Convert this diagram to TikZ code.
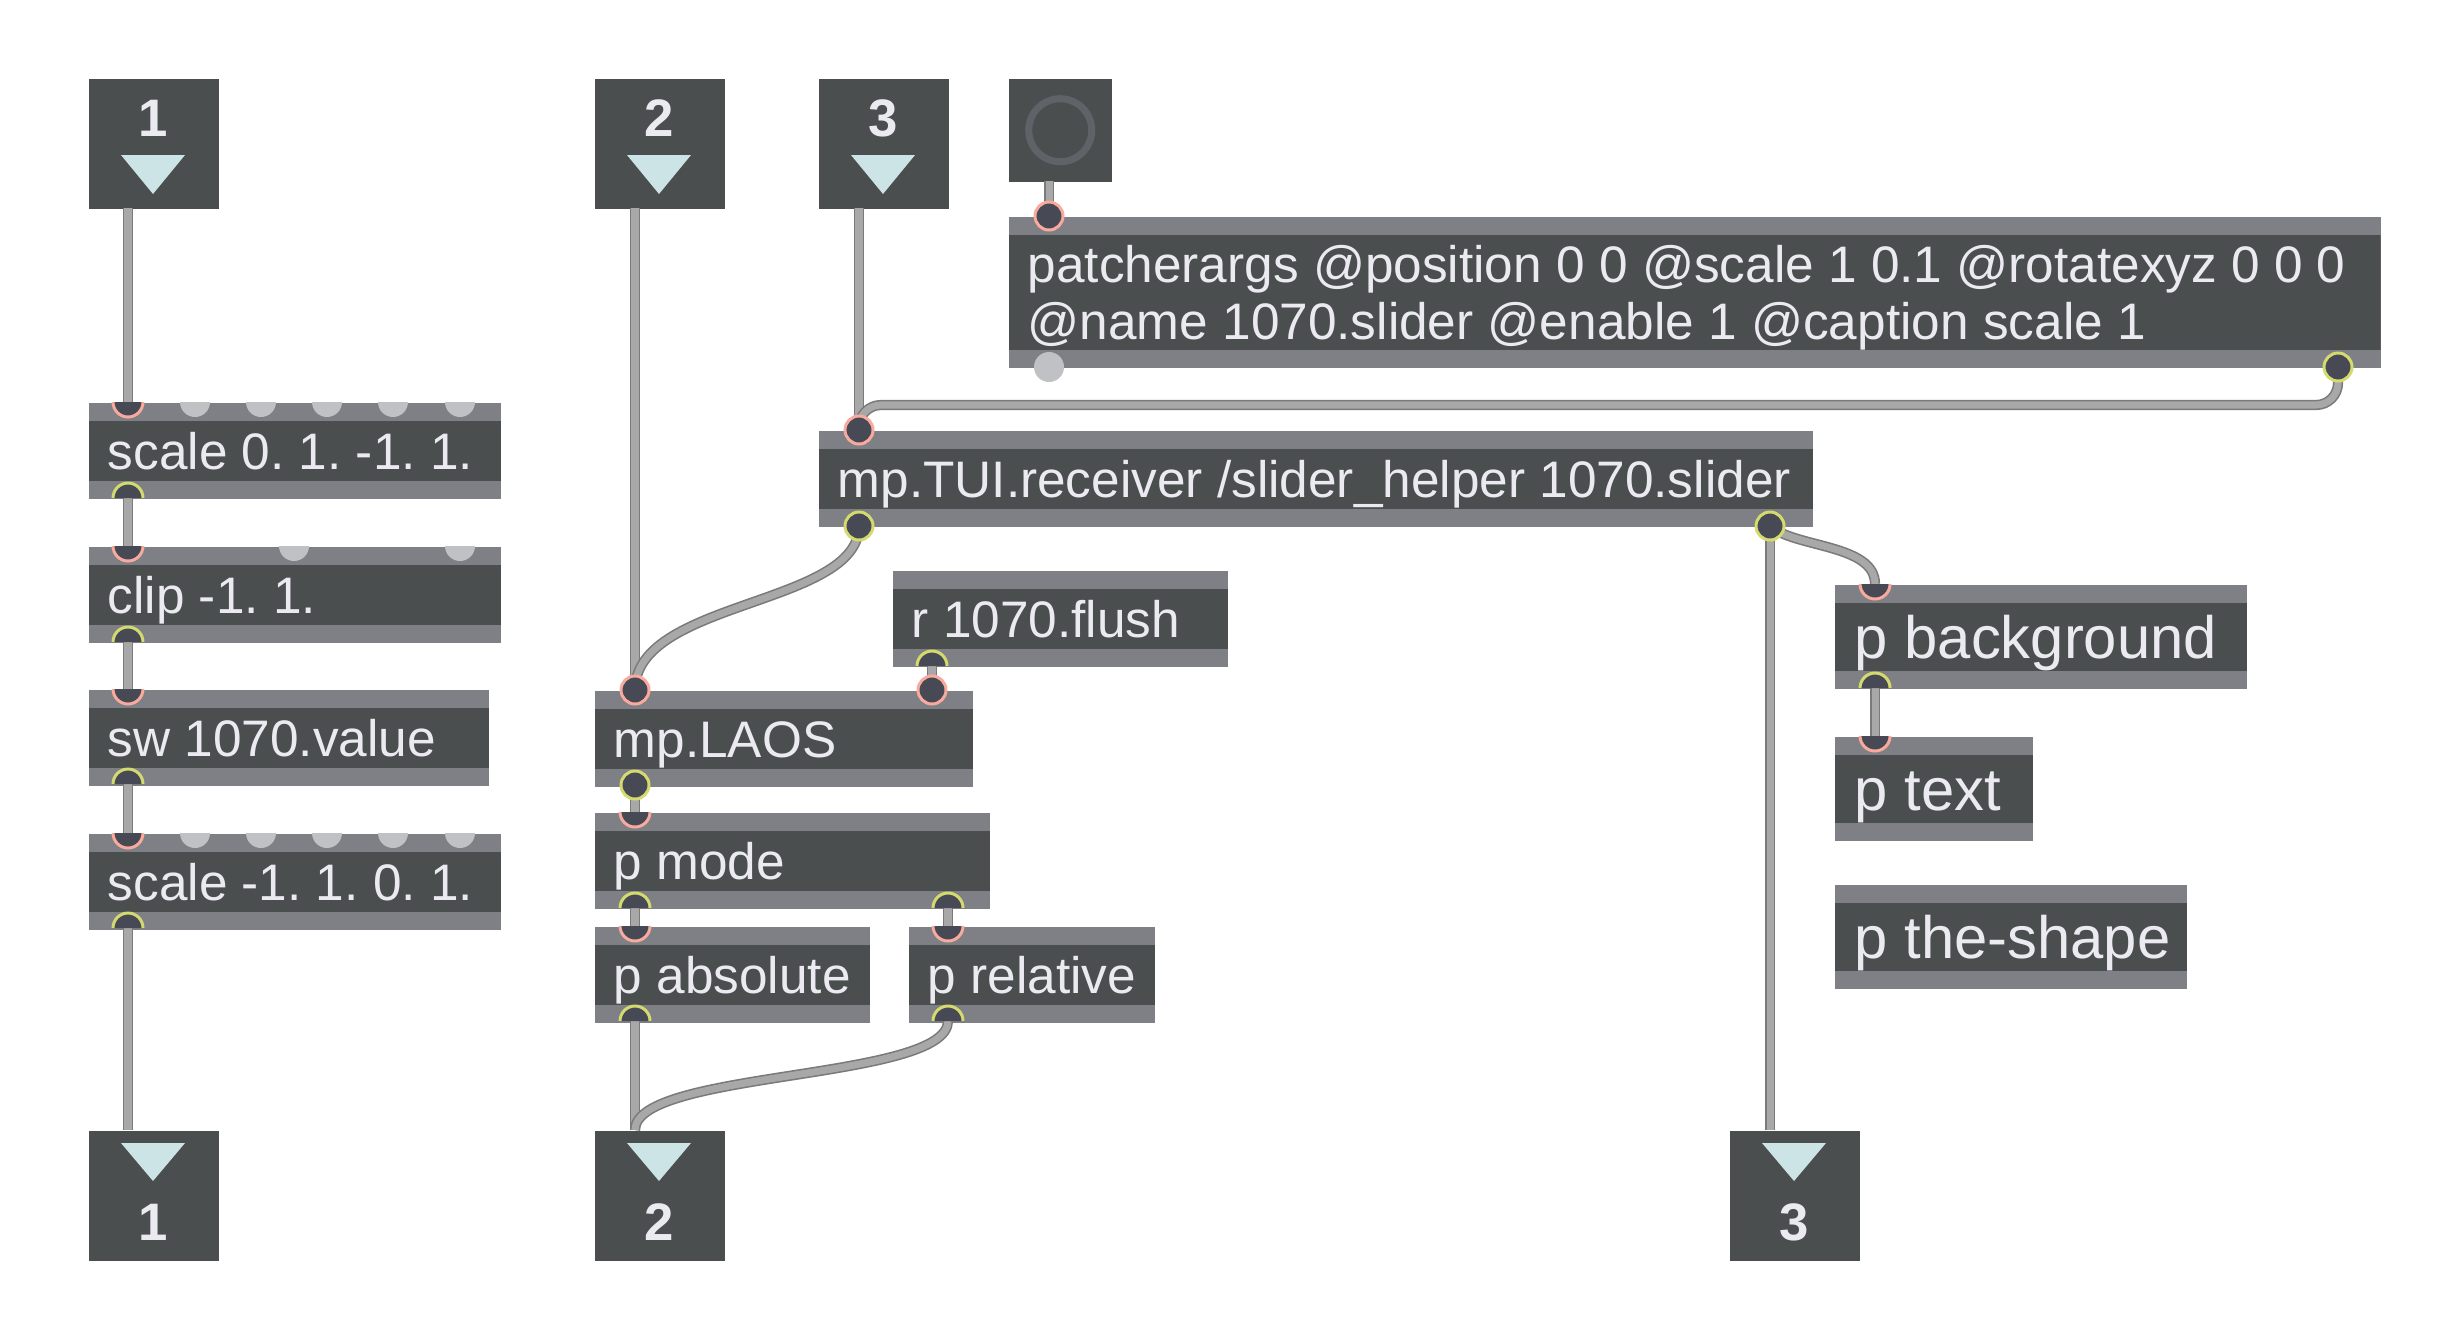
\documentclass[tikz,border=0pt]{standalone}
\usepackage{fontspec}
\newfontfamily\maxfont{Liberation Sans}
\frenchspacing
\definecolor{bodyc}{RGB}{74,78,78}
\definecolor{barc}{RGB}{127,128,133}
\definecolor{txtc}{RGB}{234,234,240}
\definecolor{pinc}{RGB}{71,74,84}
\definecolor{inc}{RGB}{247,170,157}
\definecolor{outc}{RGB}{212,218,110}
\definecolor{offc}{RGB}{192,193,196}
\definecolor{cordc}{RGB}{168,168,168}
\definecolor{cordedge}{RGB}{122,122,122}
\definecolor{tric}{RGB}{204,228,230}
\definecolor{ringc}{RGB}{95,98,103}
% half pins: inlet on a top edge, outlet on a bottom edge
\newcommand\pinin[2]{\fill[pinc] (#1) ++(15,0) arc (0:180:15) -- cycle; \draw[#2,line width=0.85pt] (#1) ++(15,0) arc (0:180:15);}
\newcommand\pinout[2]{\fill[pinc] (#1) ++(-15,0) arc (180:360:15) -- cycle; \draw[#2,line width=0.85pt] (#1) ++(-15,0) arc (180:360:15);}

\begin{document}
\begin{tikzpicture}[x=0.01cm,y=-0.01cm]
\tikzstyle{objbase}=[fill=barc,anchor=north west,inner xsep=0.19cm,inner ysep=0pt,minimum height=0.96cm,align=left,text=txtc,font=\maxfont\fontsize{14.6}{16.2}\selectfont,text height=10.45pt,text depth=0pt,
  execute at begin node={\spaceskip=0pt\xspaceskip=0pt},
  path picture={\fill[bodyc] ([yshift=-0.18cm]path picture bounding box.north west) rectangle ([yshift=0.18cm]path picture bounding box.south east);}]
\tikzstyle{obj}=[objbase,execute at begin node=\hbox\bgroup,execute at end node=\egroup]
\tikzstyle{pobj}=[obj,inner xsep=0.2cm,minimum height=1.04cm,font=\maxfont\fontsize{17}{19}\selectfont,text height=12.2pt]
\tikzstyle{port}=[fill=bodyc,anchor=north west,minimum size=1.3cm,inner sep=0pt]
\tikzstyle{num}=[text=txtc,font=\maxfont\bfseries\fontsize{15}{18}\selectfont,inner sep=0pt]
\tikzstyle{cord}=[draw=cordedge,double=cordc,double distance=2pt,line width=0.45pt]
\fill[white] (0,0) rectangle (2452,1330);
\useasboundingbox (0,0) rectangle (2452,1330);

% inlets and outlets
\foreach \x/\n in {88/1,594/2,818/3}{
  \node[port] (in\n) at (\x,78) {};
  \node[num] (in\n-n) at (\x+65,118) {\n};
  \fill[tric] (\x+33,155) -- (\x+97,155) -- (\x+65,194) -- cycle;
}
\foreach \x/\n in {88/1,594/2,1729/3}{
  \node[port] (out\n) at (\x,1130) {};
  \node[num] (out\n-n) at (\x+65,1222) {\n};
  \fill[tric] (\x+33,1143) -- (\x+97,1143) -- (\x+65,1181) -- cycle;
}
\node[port,minimum size=1.03cm] (tog) at (1008,78) {};
\node[circle,draw=ringc,line width=2pt,minimum size=0.63cm,inner sep=0pt] (togr) at (tog.center) {};

% objects
\node[obj,text width=3.74cm] (sc1) at (88,402) {scale 0. 1. -1. 1.};
\node[obj,text width=3.74cm] (clp) at (88,546) {clip -1. 1.};
\node[obj,text width=3.62cm] (sw) at (88,689) {sw 1070.value};
\node[obj,text width=3.74cm] (sc2) at (88,833) {scale -1. 1. 0. 1.};
\node[objbase,text width=13.33cm,minimum height=1.51cm,text depth=16.2pt] (args) at (1008,216) {patcherargs @position 0 0 @scale 1 0.1 @rotatexyz 0 0 0\\@name 1070.slider @enable 1 @caption scale 1};
\node[obj,text width=9.56cm] (tui) at (818,430) {mp.TUI.receiver /slider\_helper 1070.slider};
\node[obj,text width=2.97cm] (flush) at (892,570) {r 1070.flush};
\node[obj,text width=3.40cm] (laos) at (594,690) {mp.LAOS};
\node[obj,text width=3.57cm] (mode) at (594,812) {p mode};
\node[obj,text width=2.37cm] (abs) at (594,926) {p absolute};
\node[obj,text width=2.08cm] (rel) at (908,926) {p relative};
\node[pobj,text width=3.72cm] (bg) at (1834,584) {p background};
\node[pobj,text width=1.58cm] (ptxt) at (1834,736) {p text};
\node[pobj,text width=3.12cm] (shape) at (1834,884) {p the-shape};

% pin points
\coordinate (in1o) at (128,208); \coordinate (sc1i) at (128,402); \coordinate (sc1o) at (128,498);
\coordinate (clpi) at (128,546); \coordinate (clpo) at (128,642); \coordinate (swi) at (128,689);
\coordinate (swo) at (128,784); \coordinate (sc2i) at (128,833); \coordinate (sc2o) at (128,928);
\coordinate (out1i) at (128,1130);
\coordinate (in2o) at (635,208); \coordinate (laosi) at (635,690); \coordinate (laosj) at (932,690);
\coordinate (laoso) at (635,785); \coordinate (flusho) at (932,666);
\coordinate (modei) at (635,812); \coordinate (modeo) at (635,908); \coordinate (modep) at (948,908);
\coordinate (absi) at (635,926); \coordinate (abso) at (635,1021);
\coordinate (reli) at (948,926); \coordinate (relo) at (948,1021); \coordinate (out2i) at (635,1130);
\coordinate (in3o) at (859,208); \coordinate (tuii) at (859,430); \coordinate (tuio) at (859,526);
\coordinate (tuip) at (1770,526); \coordinate (out3i) at (1770,1130);
\coordinate (togo) at (1049,181); \coordinate (argsi) at (1049,216);
\coordinate (argso) at (2338,367); \coordinate (argsoff) at (1049,367);
\coordinate (bgi) at (1875,584); \coordinate (bgo) at (1875,688); \coordinate (ptxti) at (1875,736);

% cords
\draw[cord] (in1o) -- (sc1i); \draw[cord] (sc1o) -- (clpi); \draw[cord] (clpo) -- (swi);
\draw[cord] (swo) -- (sc2i); \draw[cord] (sc2o) -- (out1i);
\draw[cord] (in2o) -- (laosi); \draw[cord] (in3o) -- (tuii); \draw[cord] (togo) -- (argsi);
\draw[cord,rounded corners=0.22cm] (argso) -- ++(0,38) -| (tuii);
\draw[cord] (tuio) .. controls +(0,80) and +(0,-90) .. (laosi);
\draw[cord] (flusho) -- (laosj);
\draw[cord] (laoso) -- (modei); \draw[cord] (modeo) -- (absi); \draw[cord] (modep) -- (reli);
\draw[cord] (abso) -- (out2i);
\draw[cord] (relo) .. controls +(0,60) and +(0,-60) .. (out2i);
\draw[cord] (tuip) -- (out3i);
\draw[cord] (tuip) .. controls +(25,22) and +(0,-40) .. (bgi);
\draw[cord] (bgo) -- (ptxti);

% pins
\foreach \x in {195,261,327,393,460}{
  \fill[offc] (\x,402) ++(15,0) arc (0:180:15) -- cycle;
  \fill[offc] (\x,833) ++(15,0) arc (0:180:15) -- cycle;
}
\foreach \x in {294,460}{\fill[offc] (\x,546) ++(15,0) arc (0:180:15) -- cycle;}
\fill[offc] (argsoff) circle (15);
\filldraw[fill=pinc,draw=inc,line width=0.85pt] (argsi) circle (14);
\filldraw[fill=pinc,draw=outc,line width=0.85pt] (argso) circle (14);
\filldraw[fill=pinc,draw=inc,line width=0.85pt] (tuii) circle (14);
\filldraw[fill=pinc,draw=outc,line width=0.85pt] (tuio) circle (14);
\filldraw[fill=pinc,draw=outc,line width=0.85pt] (tuip) circle (14);
\filldraw[fill=pinc,draw=inc,line width=0.85pt] (laosi) circle (14);
\filldraw[fill=pinc,draw=inc,line width=0.85pt] (laosj) circle (14);
\filldraw[fill=pinc,draw=outc,line width=0.85pt] (laoso) circle (14);
\pinin{sc1i}{inc} \pinout{sc1o}{outc} \pinin{clpi}{inc} \pinout{clpo}{outc}
\pinin{swi}{inc} \pinout{swo}{outc} \pinin{sc2i}{inc} \pinout{sc2o}{outc}
\pinout{flusho}{outc} \pinin{modei}{inc} \pinout{modeo}{outc} \pinout{modep}{outc}
\pinin{absi}{inc} \pinout{abso}{outc} \pinin{reli}{inc} \pinout{relo}{outc}
\pinin{bgi}{inc} \pinout{bgo}{outc} \pinin{ptxti}{inc}
\end{tikzpicture}
\end{document}
